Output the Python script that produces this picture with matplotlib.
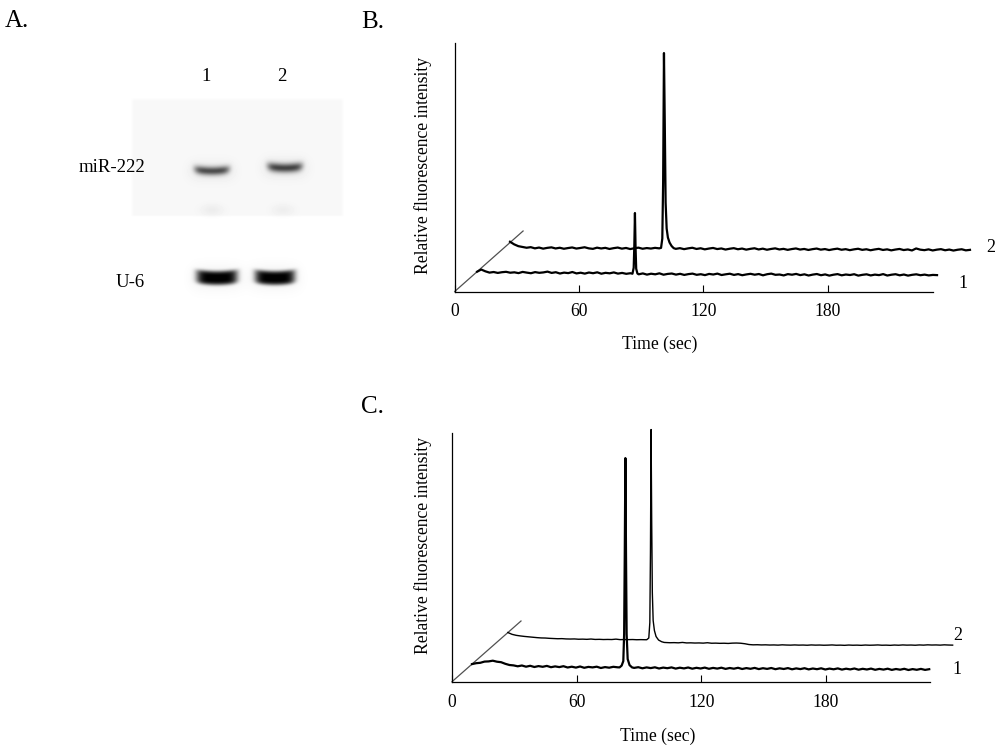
import numpy as np
import matplotlib.pyplot as plt

plt.rcParams['font.family'] = ['Liberation Serif', 'DejaVu Serif']

# ---------------- data ----------------
T_STEP = 2.0  # seconds between baseline samples
TICKS = [0, 60, 120, 180]
LANES = ['1', '2']
BANDS = ['miR-222', 'U-6']
BAND_DARK = [[0.62, 0.66], [0.96, 0.96]]   # band darkness per lane
SPOT_DARK = [0.045, 0.04]                 # faint spots under miR-222

# panel B, trace 1 (baseline relative to trace start)
b1_base = [0.0, 2.2, 0.4, -0.9, -0.3, -1.2, -0.5, -0.1, -1.0, -0.6, -1.4, -0.2, -0.9, -1.5, -0.4,
           -1.1, -0.7, 0.1, -1.2, -0.5, -1.8, -0.9, -1.4, -0.3, -1.7, -1.0, -1.9, -0.8, -1.5, -0.6,
           -2.0, -1.1, -1.6, -0.7, -1.9, -1.2, -2.1, -1.5, -2.3, -2.6, -1.7, -2.9, -2.0, -2.6, -1.6,
           -3.0, -2.2, -1.8, -2.9, -2.1, -3.2, -2.4, -1.9, -3.1, -2.5, -3.4, -2.2, -2.8, -1.9, -3.3,
           -2.6, -2.0, -3.2, -2.4, -3.5, -2.7, -2.1, -3.0, -2.3, -3.6, -2.5, -1.9, -3.1, -2.8, -3.7,
           -2.4, -3.0, -2.2, -3.4, -2.6, -3.8, -2.9, -2.3, -3.5, -2.7, -3.9, -3.0, -2.4, -3.6, -2.8,
           -3.3, -2.5, -3.9, -3.1, -2.6, -3.7, -2.9, -3.4, -2.4, -3.8, -3.0, -2.5, -3.6, -2.8, -3.9,
           -3.1, -2.6, -3.5, -2.9, -3.7, -3.2, -3.4]
b1_peak_t = [75.0, 75.6, 75.9, 76.2, 76.5, 76.8, 77.4]
b1_peak_v = [-2.0, 4.0, 26.0, 58.7, 24.0, 3.0, -1.8]

# panel B, trace 2
b2_base = [0.8, -1.8, -3.6, -4.4, -5.2, -4.6, -5.8, -5.0, -6.1, -5.3, -4.8, -5.9, -5.2, -6.2, -5.5,
           -4.9, -6.0, -5.4, -4.7, -5.8, -6.3, -5.1, -5.9, -5.3, -6.4, -5.6, -5.0, -6.1, -5.4, -6.5,
           -5.7, -5.1, -6.2, -5.5, -6.0, -5.3, -5.8, -5.5, -4.5, -5.2, -6.3, -5.6, -6.6, -5.8, -5.2,
           -6.4, -5.7, -6.8, -6.0, -5.4, -6.5, -5.9, -7.0, -6.2, -5.6, -6.7, -6.0, -7.1, -6.3, -5.7,
           -6.9, -6.1, -7.2, -6.4, -5.8, -6.9, -6.3, -7.3, -6.5, -5.9, -7.0, -6.4, -7.4, -6.6, -6.0,
           -7.1, -6.5, -7.5, -6.7, -6.1, -7.2, -6.6, -7.6, -6.8, -6.2, -7.3, -6.7, -7.7, -6.9, -6.3,
           -7.4, -6.8, -7.8, -7.0, -6.4, -7.5, -6.9, -7.9, -5.9, -7.1, -7.6, -6.8, -7.9, -7.1, -6.6,
           -7.7, -7.0, -8.0, -7.2, -6.7, -7.8, -7.3]
b2_peak_t = [72.9, 73.5, 73.9, 74.3, 74.7, 75.1, 75.6, 76.2, 77.0, 78.0, 79.0]
b2_peak_v = [-5.3, 4.0, 60.0, 189.5, 118.0, 40.0, 14.0, 5.0, 0.0, -3.5, -5.6]

# panel C, trace 1
c1_base = [0.0, 0.9, 1.3, 2.5, 2.7, 3.4, 2.4, 1.9, 0.3, -0.9, -1.3, -2.2, -1.4, -2.6, -1.7,
           -2.9, -2.0, -2.7, -1.8, -3.1, -2.3, -3.0, -2.1, -3.4, -2.6, -3.5, -2.4, -3.7, -2.8, -3.3,
           -2.6, -3.9, -3.0, -3.6, -2.7, -3.2, -3.4, -3.5, -3.6, -3.8, -3.1, -4.2, -3.3, -4.0, -3.2,
           -4.4, -3.5, -4.1, -3.3, -4.5, -3.6, -4.3, -3.4, -4.6, -3.7, -4.4, -3.5, -4.7, -3.8, -4.5,
           -3.6, -4.8, -3.9, -4.6, -3.7, -4.9, -4.0, -4.7, -3.8, -5.0, -4.1, -4.8, -3.9, -5.1, -4.2,
           -4.9, -4.0, -5.2, -4.3, -5.0, -4.1, -5.3, -4.4, -5.1, -4.2, -5.4, -4.5, -5.2, -4.3, -5.5,
           -4.6, -5.3, -4.4, -5.6, -4.7, -5.4, -4.5, -5.7, -4.8, -5.5, -4.6, -5.8, -4.9, -5.6, -4.7,
           -5.9, -5.0, -5.7, -4.8, -5.8, -5.1]
c1_peak_t = [71.0, 72.0, 72.8, 73.2, 73.5, 73.8, 74.1, 74.4, 74.9, 75.8, 77.0]
c1_peak_v = [-3.3, -1.5, 3.0, 30.0, 110.0, 206.0, 110.0, 30.0, 5.0, -1.0, -3.3]

# panel C, trace 2
c2_base = [0.0, -1.8, -2.8, -3.4, -3.9, -4.3, -4.7, -5.1, -5.4, -5.5, -5.8, -6.0, -6.2, -6.1, -6.4,
           -6.5, -6.4, -6.7, -6.6, -6.8, -6.5, -6.9, -6.8, -7.0, -6.9, -7.0, -6.6, -7.1, -7.0, -7.1,
           -7.0, -7.2, -7.1, -7.2, -8.0, -9.0, -9.6, -9.9, -10.0, -10.2, -10.1, -10.3, -9.9, -10.4, -10.3,
           -10.5, -10.4, -10.6, -10.2, -10.7, -10.6, -10.8, -10.7, -10.9, -10.6, -10.5, -10.7, -11.2, -12.0, -12.3,
           -12.2, -12.4, -12.3, -12.5, -12.4, -12.6, -12.3, -12.5, -12.6, -12.4, -12.6, -12.5, -12.7, -12.4, -12.6,
           -12.5, -12.7, -12.6, -12.4, -12.7, -12.6, -12.8, -12.5, -12.7, -12.6, -12.8, -12.5, -12.7, -12.6, -12.4,
           -12.7, -12.6, -12.8, -12.5, -12.7, -12.4, -12.6, -12.5, -12.7, -12.4, -12.6, -12.3, -12.5, -12.4, -12.6,
           -12.3, -12.5, -12.6]
c2_peak_t = [66.8, 67.8, 68.3, 68.6, 68.9, 69.2, 69.5, 69.9, 70.5, 71.3, 72.5, 74.0, 75.2]
c2_peak_v = [-7.2, -5.5, 10.0, 80.0, 203.0, 110.0, 40.0, 12.0, 2.0, -4.0, -7.5, -9.2, -9.9]


def trace(base, peak_t, peak_v):
    t = np.arange(len(base)) * T_STEP
    v = np.array(base)
    keep = (t < min(peak_t)) | (t > max(peak_t))
    t = np.concatenate([t[keep], peak_t])
    v = np.concatenate([v[keep], peak_v])
    order = np.argsort(t)
    return t[order], v[order]


def panel(ax, traces, depth_end, starts, widths, labels_xy, xmax, ymax, xlab_xy, ylab_xy):
    # depth axis of the stacked plot
    ax.plot([0, depth_end[0]], [0, depth_end[1]], color='#505050', lw=0.9, clip_on=False)
    for (t, v), f, lw, name, (lx, ly) in zip(traces, starts, widths, ['1', '2'], labels_xy):
        x0, y0 = f * depth_end[0], f * depth_end[1]
        ax.plot(t + x0, v + y0, color='black', lw=lw, clip_on=False)
        ax.text(lx, ly, name, fontsize=13, ha='center', va='center')
    ax.set_xlim(0, xmax)
    ax.set_ylim(0, ymax)
    ax.set_xticks(TICKS)
    ax.set_yticks([])
    ax.tick_params(axis='x', direction='in', length=5, width=0.8, pad=8.5, labelsize=12.7)
    for s in ['top', 'right']:
        ax.spines[s].set_visible(False)
    for s in ['left', 'bottom']:
        ax.spines[s].set_linewidth(0.9)
    ax.set_xlabel('Time (sec)', fontsize=12.7)
    ax.xaxis.set_label_coords(*xlab_xy)
    ax.set_ylabel('Relative fluorescence intensity', fontsize=12.7)
    ax.yaxis.set_label_coords(*ylab_xy)
    ax.patch.set_alpha(0)


fig = plt.figure(figsize=(10, 7.53), dpi=100)

# ---------------- panel A (gel) ----------------
axa = fig.add_axes([0, 0, 1, 1])
xs = np.arange(120, 350) + 0.5
ys = np.arange(88, 300) + 0.5
X, Y = np.meshgrid(xs, ys)
# faint membrane background with soft edges
edge_x = np.clip((X - 130) / 4, 0, 1) * np.clip((345 - X) / 4, 0, 1)
edge_y = np.clip((Y - 97) / 4, 0, 1) * np.clip((217 - Y) / 2, 0, 1)
Z = 0.028 * edge_x * edge_y

band_x = [[212, 285], [217, 275]]
band_y = [[171, 168], [278, 278]]
band_hw = [[17.5, 17.5], [20.5, 20.0]]
band_hh = [[4.3, 4.6], [7.0, 7.0]]
for r in range(len(BANDS)):
    for c in range(len(LANES)):
        dx = (X - band_x[r][c]) / band_hw[r][c]
        dy = (Y - band_y[r][c] + 1.8 * dx ** 2) / band_hh[r][c]
        prof_y = np.exp(-dy ** 2) if r == 0 else np.exp(-dy ** 4)
        Z += BAND_DARK[r][c] * np.exp(-dx ** 6) * prof_y
        # soft halo around each band
        Z += 0.05 * np.exp(-((X - band_x[r][c]) / (band_hw[r][c] + 6)) ** 4) \
            * np.exp(-((Y - band_y[r][c]) / (band_hh[r][c] + 6)) ** 2)
for c, sx in enumerate([212, 283]):
    Z += SPOT_DARK[c] * np.exp(-((X - sx) / 11) ** 2) * np.exp(-((Y - 210) / 6) ** 2)

Z = np.clip(Z, 0, 1)
axa.imshow(1 - Z, cmap='gray', vmin=0, vmax=1, extent=(120, 350, 300, 88),
           interpolation='bilinear', aspect='auto')
axa.set_xlim(0, 1000)
axa.set_ylim(753, 0)
axa.axis('off')

for name, lx in zip(LANES, [206, 282]):
    axa.text(lx, 76, name, fontsize=13.5, ha='center', va='center')
for name, ly in zip(BANDS, [167, 282]):
    axa.text(145, ly, name, fontsize=13.5, ha='right', va='center')

fig.text(0.005, 1 - 27 / 753, 'A.', fontsize=18, va='baseline')
fig.text(0.361, 1 - 28 / 753, 'B.', fontsize=18, va='baseline')
fig.text(0.361, 1 - 413 / 753, 'C.', fontsize=18, va='baseline')

# ---------------- panel B ----------------
axb = fig.add_axes([0.4547, 1 - 291.5 / 753, 0.478, 248.5 / 753])
panel(axb,
      [trace(b1_base, b1_peak_t, b1_peak_v), trace(b2_base, b2_peak_t, b2_peak_v)],
      depth_end=(33.0, 60.5), starts=[0.327, 0.809], widths=[1.6, 1.6],
      labels_xy=[(245.4, 8.5), (258.9, 43.5)], xmax=230.7, ymax=248.5,
      xlab_xy=(0.4295, -0.179), ylab_xy=(-0.047, 0.509))

# ---------------- panel C ----------------
axc = fig.add_axes([0.452, 1 - 681.7 / 753, 0.478, 248.7 / 753])
panel(axc,
      [trace(c1_base, c1_peak_t, c1_peak_v), trace(c2_base, c2_peak_t, c2_peak_v)],
      depth_end=(33.2, 60.7), starts=[0.29, 0.81], widths=[1.6, 1.0],
      labels_xy=[(243.0, 11.7), (243.5, 45.7)], xmax=230.0, ymax=248.7,
      xlab_xy=(0.43, -0.186), ylab_xy=(-0.042, 0.546))

fig.savefig('out.png', dpi=100)
